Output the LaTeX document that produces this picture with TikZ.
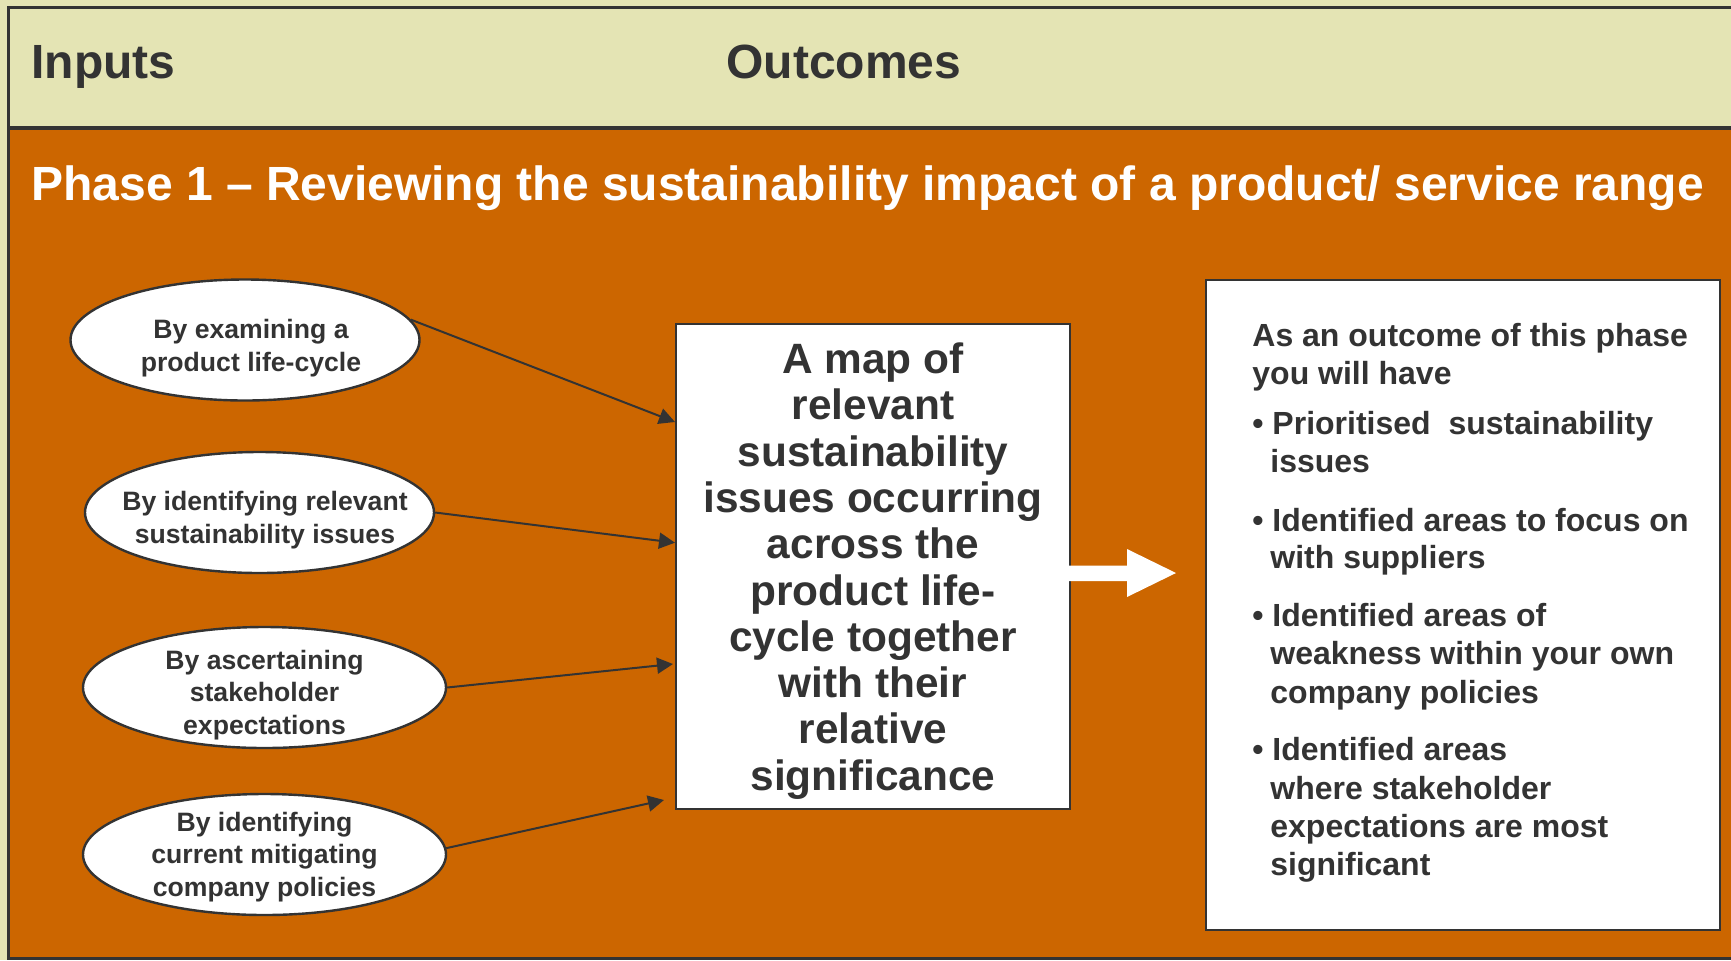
\documentclass[tikz,border=0pt]{standalone}
\usepackage{fontspec}
\setmainfont{Liberation Sans}
\usetikzlibrary{arrows.meta,shapes.geometric}
\definecolor{hdr}{RGB}{228,228,180}
\definecolor{rust}{RGB}{204,102,0}
\definecolor{ink}{RGB}{51,51,51}

\begin{document}
\begin{tikzpicture}[x=0.5pt,y=-0.5pt,
  headtext/.style={inner sep=0pt, anchor=base west, text=ink, font=\bfseries\fontsize{24}{28}\selectfont},
  bubble/.style={ellipse, draw=ink, line width=1.2pt, fill=white, minimum height=60.5pt, inner sep=0pt},
  bubbletext/.style={align=center, text=ink, inner sep=0pt, font=\bfseries\fontsize{13.3}{16.2}\selectfont},
  feed/.style={draw=ink, line width=1pt, -{Triangle[length=8pt,width=8pt]}},
  panel/.style={draw=ink, line width=1.2pt, fill=white, inner sep=0pt},
  outline/.style={inner sep=0pt, anchor=base west, text=ink, font=\bfseries\fontsize{16}{19}\selectfont}
]
\useasboundingbox (0,0) rectangle (1731,960);
\clip (0,0) rectangle (1731,960);

% page background, header band and phase band
\fill[hdr] (0,0) rectangle (1731,960);
\fill[rust] (8,128) rectangle (1740,958);
\draw[ink, line width=1.5pt] (1740,7) -- (8,7) -- (8,958) -- (1740,958);
\draw[ink, line width=1.6pt] (8,128) -- (1740,128);

% column headings and phase title
\node[headtext] (inputs) at (31,78.5) {Inputs};
\node[headtext] (outcomes) at (726,78.5) {Outcomes};
\node[headtext, text=white] (phase) at (31,200) {Phase 1 – Reviewing the sustainability impact of a product/ service range};

% input ellipses
\node[bubble, minimum width=174.5pt] (e1) at (245,340) {};
\node[bubble, minimum width=174.5pt] (e2) at (259.5,512.5) {};
\node[bubble, minimum width=181.5pt] (e3) at (264.5,687.5) {};
\node[bubble, minimum width=181.5pt] (e4) at (264.5,854.5) {};
\node[bubbletext] (t1) at (251,348) {By examining a\\product life-cycle};
\node[bubbletext] (t2) at (265,520) {By identifying relevant\\sustainability issues};
\node[bubbletext] (t3) at (264.5,695) {By ascertaining\\stakeholder\\expectations};
\node[bubbletext] (t4) at (264.5,857) {By identifying\\current mitigating\\company policies};

% central map box
\node[panel, minimum width=197pt, minimum height=242.5pt] (map) at (873,566.5) {};
\node[align=center, text=ink, inner sep=0pt, font=\bfseries\fontsize{21.2}{23.15}\selectfont] (maptext) at (873,571)
  {A map of\\relevant\\sustainability\\issues occurring\\across the\\product life-\\cycle together\\with their\\relative\\significance};

% arrow ends on the map box
\coordinate (in1) at (675,422);
\coordinate (in2) at (675,542.7);
\coordinate (in3) at (673,664);
\coordinate (in4) at (664,800);
\draw[feed] (e1.7) -- (in1);
\draw[feed] (e2.east) -- (in2);
\draw[feed] (e3.east) -- (in3);
\draw[feed] (e4.2) -- (in4);

% white block arrow towards the outcome panel
\fill[white] (1069,565.5) -- (1127,565.5) -- (1127,549) -- (1176,573) -- (1127,597) -- (1127,581) -- (1069,581) -- cycle;

% outcome panel
\node[panel, minimum width=257pt, minimum height=325pt] (outbox) at (1463,605) {};
\foreach \yy/\xx/\line [count=\i] in {
  346.5/1252/As an outcome of this phase,
  384.5/1252/you will have,
  434.8/1252/• Prioritised\ \ sustainability,
  472/1270/issues,
  531.7/1252/• Identified areas to focus on,
  568.4/1270/with suppliers,
  626.8/1252/• Identified areas of,
  664.4/1270/weakness within your own,
  703/1270/company policies,
  760.4/1252/• Identified areas,
  799/1270/where stakeholder,
  837.4/1270/expectations are most,
  875/1270/significant}
  \node[outline] (o\i) at (\xx,\yy) {\line};
\end{tikzpicture}
\end{document}
